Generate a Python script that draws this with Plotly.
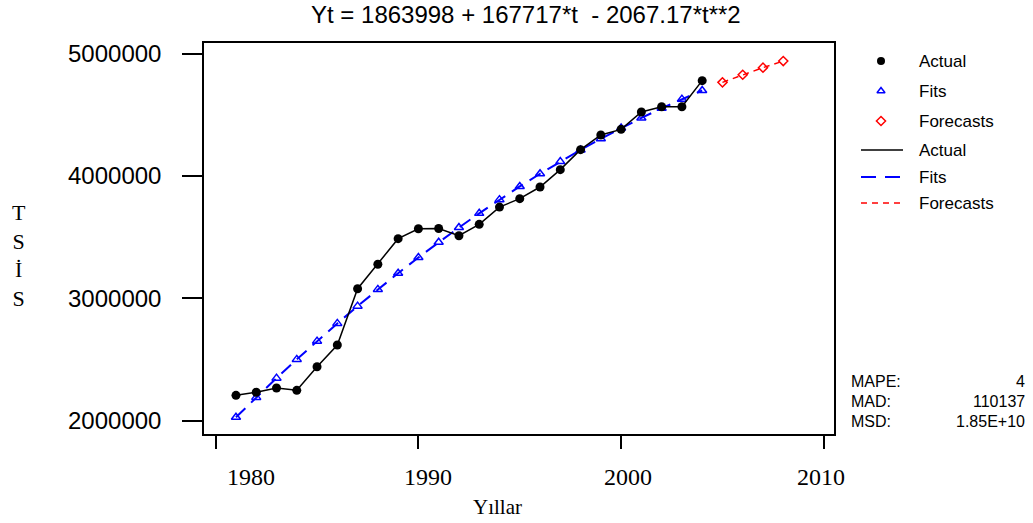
import plotly.graph_objects as go

# ---------------- data ----------------
years = [1981, 1982, 1983, 1984, 1985, 1986, 1987, 1988, 1989, 1990, 1991, 1992,
         1993, 1994, 1995, 1996, 1997, 1998, 1999, 2000, 2001, 2002, 2003, 2004]
actual = [2208000, 2233000, 2268000, 2249000, 2442000, 2619000, 3079000, 3279000,
          3488000, 3569000, 3571000, 3512000, 3605000, 3746000, 3815000, 3910000,
          4052000, 4215000, 4335000, 4381000, 4523000, 4566000, 4566000, 4779000]
fits = [2029648, 2191163, 2348545, 2501791, 2650904, 2795882, 2936726, 3073435,
        3206010, 3334451, 3458757, 3578930, 3694967, 3806871, 3914640, 4018275,
        4117775, 4213141, 4304373, 4391470, 4474433, 4553262, 4627956, 4698516]
forecast_years = [2005, 2006, 2007, 2008]
forecasts = [4764942, 4827233, 4885390, 4939413]

x_ticks = [1980, 1990, 2000, 2010]
x_tick_labels = ["1980", "1990", "2000", "2010"]
y_ticks = [2000000, 3000000, 4000000, 5000000]
y_tick_labels = ["2000000", "3000000", "4000000", "5000000"]

title_text = "Yt = 1863998 + 167717*t  - 2067.17*t**2"
x_title = "Yıllar"
y_title = "T<br>S<br>İ<br>S"
legend_names = ["Actual", "Fits", "Forecasts", "Actual", "Fits", "Forecasts"]
stat_names = ["MAPE:", "MAD:", "MSD:"]
stat_values = ["4", "110137", "1.85E+10"]

# ---------------- styles ----------------
W, H = 1033, 523
SANS = "Liberation Sans, Arial, sans-serif"
SERIF = "Liberation Serif, Times New Roman, serif"
BLUE = "#0000FF"
RED = "#FF0000"
FITS_DASH = "13px,8px"
FC_DASH = "6px,5px"

fig = go.Figure()

# main series
fig.add_trace(go.Scatter(x=years, y=fits, mode="lines+markers",
                         line=dict(color=BLUE, width=2, dash=FITS_DASH),
                         marker=dict(symbol="triangle-up-open", size=8, color=BLUE,
                                     line=dict(width=1.5, color=BLUE)),
                         showlegend=False))
fig.add_trace(go.Scatter(x=years, y=actual, mode="lines+markers",
                         line=dict(color="black", width=1.5),
                         marker=dict(symbol="circle", size=9, color="black"),
                         showlegend=False))
fig.add_trace(go.Scatter(x=forecast_years, y=forecasts, mode="lines+markers",
                         line=dict(color=RED, width=1.5, dash=FC_DASH),
                         marker=dict(symbol="diamond-open", size=7, color=RED,
                                     line=dict(width=1.5, color=RED)),
                         showlegend=False))

# ---------------- manual legend (pixel overlay axes) ----------------
leg_marker_x = 881
leg_line_x = [861, 903]
leg_text_x = 917
leg_rows = [61, 91, 121, 150, 177, 203]

fig.add_trace(go.Scatter(x=[leg_marker_x], y=[leg_rows[0]], xaxis="x2", yaxis="y2",
                         mode="markers", marker=dict(symbol="circle", size=8, color="black"),
                         showlegend=False, hoverinfo="skip"))
fig.add_trace(go.Scatter(x=[leg_marker_x], y=[leg_rows[1]], xaxis="x2", yaxis="y2",
                         mode="markers",
                         marker=dict(symbol="triangle-up-open", size=7, color=BLUE,
                                     line=dict(width=1.5, color=BLUE)),
                         showlegend=False, hoverinfo="skip"))
fig.add_trace(go.Scatter(x=[leg_marker_x], y=[leg_rows[2]], xaxis="x2", yaxis="y2",
                         mode="markers",
                         marker=dict(symbol="diamond-open", size=7, color=RED,
                                     line=dict(width=1.5, color=RED)),
                         showlegend=False, hoverinfo="skip"))
for row, col, dash, wd in [(leg_rows[3], "black", "solid", 1.5),
                           (leg_rows[4], BLUE, "15px,9px", 2),
                           (leg_rows[5], RED, FC_DASH, 1.5)]:
    fig.add_trace(go.Scatter(x=leg_line_x, y=[row, row], xaxis="x2", yaxis="y2",
                             mode="lines", line=dict(color=col, width=wd, dash=dash),
                             showlegend=False, hoverinfo="skip"))

annotations = []
for name, row in zip(legend_names, leg_rows):
    annotations.append(dict(x=leg_text_x, y=row, xref="x2", yref="y2", text=name,
                            showarrow=False, xanchor="left", yanchor="middle",
                            font=dict(family=SANS, size=17, color="black")))

# stats
stat_rows = [381, 401, 421]
for name, val, row in zip(stat_names, stat_values, stat_rows):
    annotations.append(dict(x=849, y=row, xref="x2", yref="y2", text=name,
                            showarrow=False, xanchor="left", yanchor="middle",
                            font=dict(family=SANS, size=16, color="black")))
    annotations.append(dict(x=1027, y=row, xref="x2", yref="y2", text=val,
                            showarrow=False, xanchor="right", yanchor="middle",
                            font=dict(family=SANS, size=16, color="black")))

# title
annotations.append(dict(x=526, y=0, xref="x2", yref="y2", text=title_text,
                        showarrow=False, xanchor="center", yanchor="top",
                        borderpad=0,
                        font=dict(family=SANS, size=24, color="black")))
# axis titles
annotations.append(dict(x=19, y=255, xref="x2", yref="y2", text=y_title,
                        showarrow=False, xanchor="center", yanchor="middle",
                        font=dict(family=SERIF, size=22, color="black")))
annotations.append(dict(x=497, y=507, xref="x2", yref="y2", text=x_title,
                        showarrow=False, xanchor="center", yanchor="middle",
                        font=dict(family=SERIF, size=21, color="black")))
# x tick labels
x_label_shift = [35, 10, 7, -3]
for xv, lab, sh in zip(x_ticks, x_tick_labels, x_label_shift):
    annotations.append(dict(x=xv, y=477, xref="x", yref="y2", text=lab, xshift=sh,
                            showarrow=False, xanchor="center", yanchor="middle",
                            font=dict(family=SERIF, size=24, color="black")))

fig.update_layout(
    width=W, height=H,
    margin=dict(l=0, r=0, t=0, b=0),
    paper_bgcolor="white", plot_bgcolor="rgba(0,0,0,0)",
    showlegend=False,
    xaxis=dict(domain=[204 / W, 834 / W], range=[1979.423, 2010.503],
               showline=True, mirror=True, linecolor="black", linewidth=1.5,
               ticks="outside", ticklen=13, tickwidth=1.5, tickcolor="black",
               tickvals=x_ticks, showticklabels=False, showgrid=False,
               zeroline=False, automargin=False, anchor="y"),
    yaxis=dict(domain=[(H - 434) / H, (H - 43) / H], range=[1892200, 5086600],
               showline=True, mirror=True, linecolor="black", linewidth=1.5,
               ticks="outside", ticklen=20, tickwidth=1.5, tickcolor="black",
               tickvals=y_ticks, ticktext=y_tick_labels, ticklabelstandoff=16,
               tickfont=dict(family=SANS, size=24, color="black"),
               showgrid=False, zeroline=False, automargin=False, anchor="x"),
    xaxis2=dict(domain=[0, 1], range=[0, W], visible=False, anchor="y2",
                fixedrange=True),
    yaxis2=dict(domain=[0, 1], range=[H, 0], visible=False, anchor="x2",
                fixedrange=True),
    annotations=annotations,
)

fig.write_html("out.html")
